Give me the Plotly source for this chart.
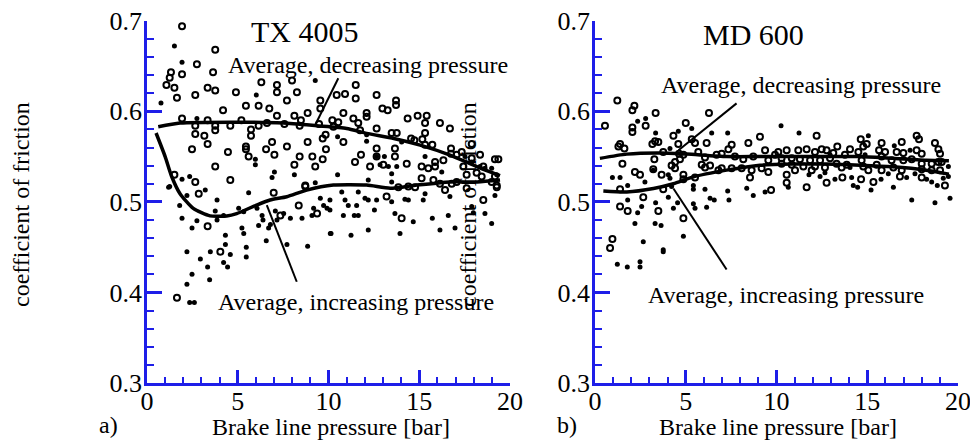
import plotly.graph_objects as go

# ---------------- data: panel a) TX 4005 ----------------
a_dec_x = [1.93,3.76,2.75,1.32,1.93,1.25,3.64,1.07,1.51,1.65,2.66,3.34,3.76,4.90,6.30,7.16,7.16,7.71,8.26,7.99,9.55,9.55,
           4.19,5.45,6.15,6.74,7.16,8.12,8.85,1.93,3.34,5.20,2.66,3.76,4.59,5.73,6.15,6.61,7.57,8.41,8.48,9.48,2.66,3.16,
           3.76,5.73,3.34,2.48,4.46,5.45,5.45,5.60,6.56,6.89,7.02,7.71,8.85,8.41,9.11,9.68,9.86,9.68,8.12,9.27,3.76,4.59,
           2.66,1.51,8.72,
           11.50,11.50,12.65,12.97,13.26,13.72,13.72,10.91,10.45,10.82,10.21,10.54,10.27,11.37,11.64,12.10,12.10,11.74,
           10.82,9.84,12.65,12.65,12.65,13.48,13.76,14.36,14.91,15.41,15.32,16.14,16.69,14.55,14.73,15.17,15.32,15.32,
           15.72,13.66,13.66,13.02,11.79,11.46,12.29,14.31,15.13,15.50,15.13,15.87,15.87,16.33,16.75,16.75,17.06,17.34,
           17.89,18.35,17.89,18.53,19.17,19.36,17.43,17.61,18.16,18.44,19.17,18.99,19.27,17.06,16.79,15.78,16.14,14.40,
           6.98,2.85,8.36,3.34,4.04,1.65,7.35,9.37,8.72,13.20,14.03,18.53,16.42,14.77,13.85,17.61,19.27]
a_dec_y = [0.694,0.668,0.652,0.643,0.641,0.637,0.643,0.629,0.626,0.615,0.618,0.626,0.623,0.621,0.632,0.629,0.621,0.612,
           0.621,0.634,0.612,0.603,0.601,0.606,0.606,0.603,0.595,0.595,0.598,0.592,0.590,0.590,0.584,0.584,0.584,0.580,
           0.584,0.587,0.586,0.584,0.590,0.586,0.575,0.573,0.579,0.573,0.564,0.558,0.555,0.561,0.558,0.550,0.558,0.566,
           0.552,0.561,0.566,0.550,0.550,0.547,0.558,0.570,0.541,0.539,0.539,0.524,0.522,0.530,0.518,
           0.629,0.614,0.618,0.603,0.601,0.612,0.607,0.619,0.618,0.598,0.590,0.588,0.583,0.592,0.587,0.598,0.594,0.579,
           0.566,0.574,0.581,0.559,0.550,0.576,0.576,0.592,0.595,0.595,0.587,0.587,0.581,0.570,0.568,0.569,0.576,0.563,
           0.563,0.559,0.550,0.541,0.552,0.544,0.539,0.542,0.539,0.537,0.526,0.544,0.539,0.546,0.559,0.553,0.552,0.555,
           0.564,0.552,0.548,0.539,0.547,0.547,0.539,0.530,0.532,0.528,0.528,0.522,0.518,0.522,0.520,0.524,0.520,0.517,
           0.510,0.509,0.496,0.473,0.445,0.394,0.485,0.487,0.517,0.506,0.482,0.502,0.513,0.516,0.516,0.515,0.516]

a_inc_x = [1.51,1.93,0.77,2.75,6.02,9.27,5.97,5.97,7.02,6.89,8.12,1.93,2.35,1.25,9.27,
           10.50,12.10,10.50,12.65,13.08,12.84,13.30,13.76,13.48,15.32,16.24,17.52,17.89,18.35,18.62,18.99,19.27,12.19,
           13.48,12.10,14.03,
           1.19,2.20,3.21,5.60,3.86,1.80,1.93,2.75,3.76,2.48,5.05,5.33,6.06,6.34,7.07,7.53,7.90,8.54,9.18,9.92,9.55,5.23,
           5.33,4.32,4.32,5.47,5.47,2.20,2.94,3.49,4.59,3.34,4.22,4.44,2.48,2.20,3.45,6.15,6.70,6.39,6.57,7.71,8.85,10.10,
           2.35,2.61,3.86,4.22,6.80,7.16,9.09,9.73,
           10.08,10.08,10.91,11.09,11.55,11.64,12.01,12.19,12.65,13.48,14.21,14.40,15.22,15.32,16.69,10.82,11.42,11.64,
           12.53,13.66,14.67,15.72,16.60,17.98,18.62,18.99,10.14,11.24,12.19,13.94,16.14,16.97,10.73,19.17,17.89]
a_inc_y = [0.672,0.654,0.609,0.592,0.618,0.634,0.547,0.541,0.533,0.527,0.530,0.525,0.528,0.517,0.521,
           0.572,0.567,0.530,0.550,0.550,0.541,0.539,0.539,0.531,0.550,0.533,0.550,0.544,0.539,0.537,0.537,0.530,0.524,
           0.522,0.574,0.566,
           0.516,0.507,0.513,0.510,0.502,0.496,0.482,0.479,0.490,0.471,0.493,0.489,0.493,0.485,0.490,0.487,0.482,0.482,
           0.493,0.493,0.504,0.471,0.465,0.463,0.453,0.450,0.439,0.445,0.437,0.445,0.442,0.428,0.433,0.428,0.420,0.409,
           0.414,0.474,0.471,0.480,0.457,0.453,0.451,0.465,0.389,0.389,0.480,0.485,0.475,0.480,0.485,0.496,
           0.502,0.491,0.502,0.496,0.496,0.511,0.504,0.502,0.502,0.500,0.503,0.502,0.502,0.509,0.506,0.485,0.485,0.485,
           0.491,0.487,0.478,0.482,0.485,0.488,0.487,0.476,0.465,0.463,0.469,0.465,0.469,0.471,0.511,0.507,0.495]

a_avg_dec_x = [0.62,1.82,4.76,7.5,9.35,11.0,12.1,13.6,15.05,16.7,18.2,19.45]
a_avg_dec_y = [0.583,0.587,0.588,0.587,0.584,0.581,0.5756,0.570,0.5626,0.5516,0.5387,0.529]
a_avg_inc_x = [0.5,1.0,1.36,1.82,2.55,3.47,4.39,4.94,6.04,6.78,7.7,8.8,10.27,12.1,13.4,14.86,16.7,18.2,19.45]
a_avg_inc_y = [0.576,0.550,0.528,0.509,0.4927,0.4845,0.4845,0.487,0.4965,0.502,0.5057,0.513,0.5185,0.5185,0.515,
               0.5185,0.522,0.522,0.524]

# ---------------- data: panel b) MD 600 ----------------
b_dec_x = [1.23,2.17,2.06,3.34,0.55,2.79,2.06,2.06,5.00,6.28,1.38,1.29,1.62,3.31,3.49,3.16,4.32,4.59,5.33,5.51,6.15,5.69,
           4.63,3.76,3.27,1.51,2.20,2.48,3.21,3.67,4.41,4.68,4.87,6.06,6.06,5.88,6.70,6.98,7.35,7.53,8.45,7.71,8.17,8.72,
           9.37,9.55,9.92,9.09,6.80,7.53,8.63,9.18,9.55,4.87,4.87,5.51,3.76,2.66,1.38,1.38,1.80,3.49,4.87,9.70,8.54,0.96,
           0.83,4.41,4.22,6.34,6.98,8.08,
           12.21,14.64,14.97,13.35,15.79,16.90,17.72,17.85,18.73,18.92,19.01,10.10,10.56,11.20,11.66,12.12,12.49,12.76,
           13.13,14.05,14.51,14.78,15.65,15.98,16.62,16.99,17.72,18.00,10.28,10.84,11.29,11.85,12.40,12.95,13.77,14.69,
           15.79,16.34,16.99,17.45,18.92,10.28,10.84,11.48,12.12,12.67,13.31,13.87,14.78,15.52,16.44,18.00,18.55,19.10,
           11.02,11.94,13.59,15.06,15.79,16.90,18.00,18.55,19.01,10.56,10.56,11.66,12.76,13.63,14.66,15.34,16.80,18.00,
           19.28]
b_dec_y = [0.612,0.606,0.601,0.598,0.584,0.584,0.582,0.577,0.587,0.598,0.564,0.561,0.559,0.567,0.566,0.564,0.573,0.564,
           0.569,0.565,0.565,0.555,0.553,0.555,0.547,0.542,0.533,0.530,0.536,0.530,0.544,0.547,0.552,0.549,0.538,0.541,
           0.552,0.553,0.558,0.563,0.565,0.550,0.547,0.550,0.557,0.546,0.552,0.572,0.535,0.537,0.535,0.537,0.533,0.530,
           0.525,0.527,0.514,0.505,0.514,0.495,0.490,0.490,0.482,0.513,0.527,0.459,0.449,0.537,0.540,0.540,0.537,0.537,
           0.573,0.569,0.564,0.561,0.565,0.566,0.573,0.569,0.565,0.558,0.553,0.555,0.557,0.557,0.558,0.555,0.558,0.557,
           0.554,0.558,0.555,0.561,0.557,0.555,0.555,0.554,0.557,0.553,0.548,0.548,0.547,0.546,0.546,0.548,0.552,0.546,
           0.550,0.546,0.546,0.547,0.544,0.542,0.541,0.539,0.539,0.538,0.542,0.541,0.539,0.541,0.538,0.542,0.542,0.544,
           0.535,0.535,0.538,0.535,0.535,0.535,0.536,0.535,0.535,0.530,0.521,0.516,0.521,0.527,0.525,0.522,0.528,0.527,
           0.518]

b_inc_x = [2.35,2.79,4.59,5.33,6.43,7.31,3.34,4.13,4.13,0.96,1.38,2.75,1.80,3.21,4.04,5.42,5.42,6.06,6.34,6.57,7.31,7.38,
           8.36,8.72,9.37,1.80,2.57,4.04,4.32,4.55,5.42,5.51,6.15,2.35,3.34,2.20,3.31,3.64,4.87,2.66,3.76,4.22,
           1.23,1.78,2.48,2.48,3.76,
           10.25,11.24,15.06,16.49,17.36,19.47,19.47,10.65,11.79,12.40,13.22,14.14,14.47,14.23,15.21,15.76,16.44,17.17,
           18.27,18.55,19.19,18.86,17.45,18.73,19.56,12.67,16.16,14.05,17.63,12.95,14.88]
b_inc_y = [0.589,0.592,0.578,0.581,0.576,0.576,0.576,0.559,0.526,0.527,0.527,0.522,0.518,0.535,0.530,0.518,0.514,0.514,
           0.504,0.502,0.512,0.502,0.515,0.507,0.511,0.502,0.495,0.505,0.493,0.499,0.498,0.493,0.494,0.488,0.499,0.476,
           0.476,0.474,0.462,0.456,0.447,0.517,
           0.431,0.428,0.434,0.428,0.445,
           0.584,0.576,0.573,0.562,0.557,0.539,0.528,0.516,0.530,0.528,0.525,0.527,0.516,0.518,0.513,0.525,0.516,0.527,
           0.525,0.522,0.526,0.518,0.502,0.499,0.504,0.532,0.531,0.538,0.531,0.552,0.552]

b_avg_dec_x = [0.27,1.75,3.58,5.05,7.25,9.09,10.9,12.75,14.6,16.4,18.25,19.5]
b_avg_dec_y = [0.548,0.5527,0.554,0.5527,0.550,0.550,0.550,0.550,0.550,0.548,0.546,0.5455]
b_avg_inc_x = [0.46,1.75,3.22,4.32,5.42,7.25,9.09,10.9,12.75,14.6,16.4,18.25,19.5]
b_avg_inc_y = [0.512,0.511,0.5148,0.520,0.5276,0.535,0.5405,0.5417,0.5417,0.5405,0.5387,0.535,0.5306]

# ---------------- texts ----------------
titles = ["TX 4005", "MD 600"]
panel_tags = ["a)", "b)"]
x_title = "Brake line pressure [bar]"
y_title = "coefficient of friction"
lbl_dec = "Average, decreasing pressure"
lbl_inc = "Average, increasing pressure"
x_ticks = [0, 5, 10, 15, 20]
y_ticks = [0.3, 0.4, 0.5, 0.6, 0.7]

# leader lines (data coords): [x0, y0, x1, y1]
a_lead_dec = [10.54, 0.6364, 9.26, 0.5845]
a_lead_inc = [6.6, 0.4965, 8.25, 0.4118]
b_lead_dec = [7.8, 0.6087, 4.6, 0.557]
b_lead_inc = [4.32, 0.5148, 7.25, 0.4253]
# label anchors (data coords)
a_lbl_dec_pos = [12.2, 0.651]
a_lbl_inc_pos = [11.49, 0.3895]
b_lbl_dec_pos = [11.34, 0.629]
b_lbl_inc_pos = [10.5, 0.397]

W, H = 970, 441
BLUE = "#1e1ee8"
FONT = "Liberation Serif"

fig = go.Figure()

def add_panel(xa, ya, avg_dec, avg_inc, dec, inc):
    for (xs, ys) in (avg_dec, avg_inc):
        fig.add_trace(go.Scatter(x=xs, y=ys, mode="lines", xaxis=xa, yaxis=ya,
                                 line=dict(color="black", width=3.5, shape="spline", smoothing=0.6),
                                 showlegend=False, hoverinfo="skip"))
    fig.add_trace(go.Scatter(x=dec[0], y=dec[1], mode="markers", xaxis=xa, yaxis=ya,
                             marker=dict(symbol="circle-open", size=6, color="black", line=dict(width=2, color="black")),
                             showlegend=False, cliponaxis=False))
    fig.add_trace(go.Scatter(x=inc[0], y=inc[1], mode="markers", xaxis=xa, yaxis=ya,
                             marker=dict(symbol="circle", size=5, color="black"),
                             showlegend=False, cliponaxis=False))

add_panel("x", "y", (a_avg_dec_x, a_avg_dec_y), (a_avg_inc_x, a_avg_inc_y), (a_dec_x, a_dec_y), (a_inc_x, a_inc_y))
add_panel("x2", "y2", (b_avg_dec_x, b_avg_dec_y), (b_avg_inc_x, b_avg_inc_y), (b_dec_x, b_dec_y), (b_inc_x, b_inc_y))

ydom = [1 - 383 / H, 1 - 20.7 / H]
common_x = dict(range=[0, 20], tickvals=x_ticks, ticks="inside", ticklen=13, tickwidth=2.5, tickcolor=BLUE,
                showline=True, linecolor=BLUE, linewidth=2.5, showgrid=False, zeroline=False, automargin=False,
                ticklabeloverflow="allow", ticklabelstandoff=-7,
                tickfont=dict(family=FONT, size=26, color="black"),
                minor=dict(ticks="inside", ticklen=6, tickwidth=2, tickcolor=BLUE, dtick=1, showgrid=False))
common_y = dict(range=[0.3, 0.7], tickvals=y_ticks, tickformat=".1f", ticks="inside", ticklen=15, tickwidth=2.5,
                tickcolor=BLUE, showline=True, linecolor=BLUE, linewidth=2.5, showgrid=False, zeroline=False,
                automargin=False, ticklabeloverflow="allow", ticklabelstandoff=-3,
                tickfont=dict(family=FONT, size=26, color="black"),
                minor=dict(ticks="inside", ticklen=7, tickwidth=2, tickcolor=BLUE, dtick=0.02, showgrid=False))

fig.update_layout(
    width=W, height=H, autosize=False, showlegend=False,
    margin=dict(l=0, r=0, t=0, b=0, pad=0, autoexpand=False),
    paper_bgcolor="white", plot_bgcolor="white",
    font=dict(family=FONT, size=24, color="black"),
    xaxis=dict(domain=[147 / W, 510 / W], anchor="y", **common_x),
    yaxis=dict(domain=ydom, anchor="x", **common_y),
    xaxis2=dict(domain=[595 / W, 958 / W], anchor="y2", **common_x),
    yaxis2=dict(domain=ydom, anchor="x2", **common_y),
)

def line_shape(xref, yref, c):
    fig.add_shape(type="line", xref=xref, yref=yref, x0=c[0], y0=c[1], x1=c[2], y1=c[3],
                  line=dict(color="black", width=2))

line_shape("x", "y", a_lead_dec)
line_shape("x", "y", a_lead_inc)
line_shape("x2", "y2", b_lead_dec)
line_shape("x2", "y2", b_lead_inc)

def ann(text, x, y, xref="paper", yref="paper", size=24, angle=0):
    fig.add_annotation(text=text, x=x, y=y, xref=xref, yref=yref, showarrow=False, xanchor="center",
                       yanchor="middle", textangle=angle, font=dict(family=FONT, size=size, color="black"))

ann(lbl_dec, *a_lbl_dec_pos, xref="x", yref="y")
ann(lbl_inc, *a_lbl_inc_pos, xref="x", yref="y")
ann(lbl_dec, *b_lbl_dec_pos, xref="x2", yref="y2")
ann(lbl_inc, *b_lbl_inc_pos, xref="x2", yref="y2")
ann(titles[0], 305 / W, 1 - 31.7 / H, size=30)
ann(titles[1], 753 / W, 1 - 35 / H, size=30)
ann(x_title, 331 / W, 1 - 427 / H)
ann(x_title, 778 / W, 1 - 427 / H)
ann(panel_tags[0], 108 / W, 1 - 425 / H)
ann(panel_tags[1], 567 / W, 1 - 425 / H)
ann(y_title, 21 / W, 1 - 205 / H, angle=-90)
ann(y_title, 468 / W, 1 - 205 / H, angle=-90)

fig.write_html("out.html", config={"displayModeBar": False})
